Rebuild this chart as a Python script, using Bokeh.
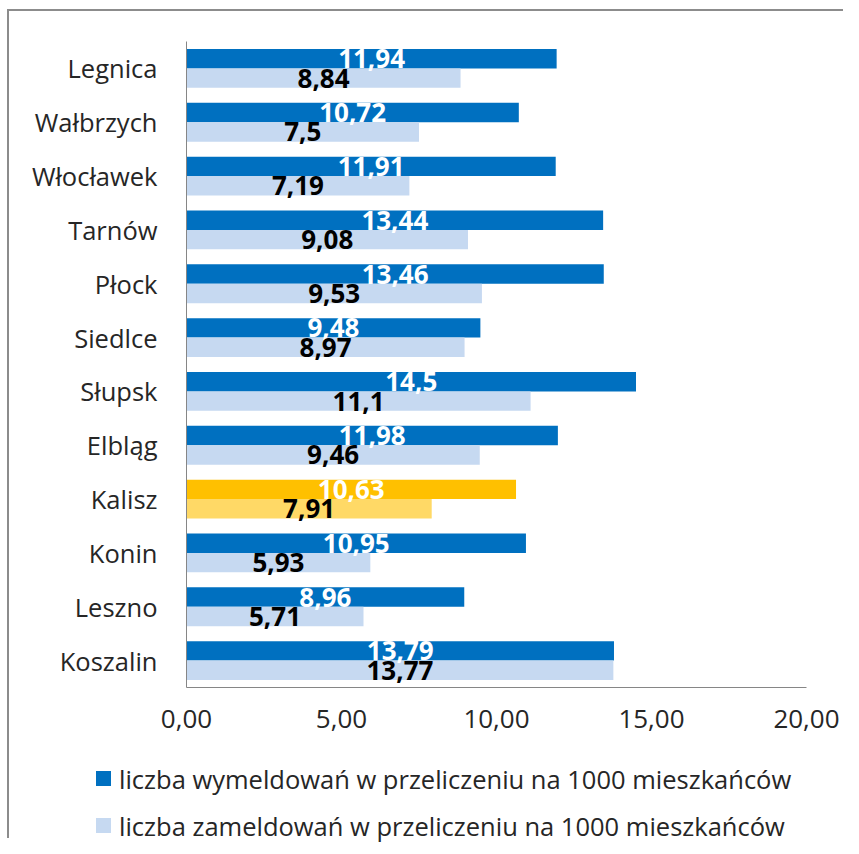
from bokeh.plotting import figure
from bokeh.layouts import column
from bokeh.models import ColumnDataSource, FactorRange, Range1d, Div, CustomJSTickFormatter
from bokeh.transform import dodge
from bokeh.core.properties import value
from bokeh.embed import file_html
from bokeh.resources import INLINE

cities = ["Legnica", "Wałbrzych", "Włocławek", "Tarnów", "Płock", "Siedlce",
          "Słupsk", "Elbląg", "Kalisz", "Konin", "Leszno", "Koszalin"]
wymeld = [11.94, 10.72, 11.91, 13.44, 13.46, 9.48, 14.5, 11.98, 10.63, 10.95, 8.96, 13.79]
zameld = [8.84, 7.5, 7.19, 9.08, 9.53, 8.97, 11.1, 9.46, 7.91, 5.93, 5.71, 13.77]
highlight = "Kalisz"
x_ticks = [0, 5, 10, 15, 20]
series_names = ["liczba wymeldowań w przeliczeniu na 1000 mieszkańców",
                "liczba zameldowań w przeliczeniu na 1000 mieszkańców"]

DARK, LIGHT = "#0070C0", "#C6D9F1"
HDARK, HLIGHT = "#FFC000", "#FFD966"
series_colors = [DARK, LIGHT]

src = ColumnDataSource(dict(
    city=cities,
    w=wymeld, z=zameld,
    wh=[v / 2 for v in wymeld], zh=[v / 2 for v in zameld],
    wl=[str(v).replace(".", ",") for v in wymeld],
    zl=[str(v).replace(".", ",") for v in zameld],
    wc=[HDARK if c == highlight else DARK for c in cities],
    zc=[HLIGHT if c == highlight else LIGHT for c in cities],
))

FONT = "Open Sans"
TXT = "#262626"

p = figure(width=834, height=724, output_backend="svg", toolbar_location=None,
           y_range=FactorRange(*cities[::-1], range_padding=0),
           x_range=Range1d(0, 20),
           min_border_left=177, min_border_right=37, min_border_top=30, min_border_bottom=48)

p.hbar(y=dodge("city", 0.18, range=p.y_range), right="w", left=0, height=0.36,
       fill_color="wc", line_color=None, source=src)
p.hbar(y=dodge("city", -0.18, range=p.y_range), right="z", left=0, height=0.36,
       fill_color="zc", line_color=None, source=src)

p.text(x="wh", y=dodge("city", 0.18, range=p.y_range), text="wl", source=src,
       text_align="center", text_baseline="middle", text_color="white",
       text_font=value(FONT), text_font_style="bold", text_font_size="26px")
p.text(x="zh", y=dodge("city", -0.18, range=p.y_range), text="zl", source=src,
       text_align="center", text_baseline="middle", text_color="black",
       text_font=value(FONT), text_font_style="bold", text_font_size="26px")

p.grid.visible = False
p.outline_line_color = None

for ax in (p.xaxis[0], p.yaxis[0]):
    ax.axis_line_color = "#868686"
    ax.axis_line_width = 1
    ax.major_tick_line_color = None
    ax.minor_tick_line_color = None
    ax.major_label_text_font = FONT
    ax.major_label_text_font_size = "26px"
    ax.major_label_text_color = TXT

p.yaxis.major_label_text_font_size = "25.5px"
p.xaxis.ticker = x_ticks
p.xaxis.formatter = CustomJSTickFormatter(code="return tick.toFixed(2).replace('.', ',');")
p.xaxis.major_label_standoff = 16
p.yaxis.major_label_standoff = 23

# legend (HTML, real text)
rows = []
for i, (name, col) in enumerate(zip(series_names, series_colors)):
    cy = 44 + 47 * i
    rows.append(
        f'<div style="position:absolute;left:87px;top:{cy - 8}px;width:15px;height:15px;background:{col};"></div>'
        f'<div style="position:absolute;left:110px;top:{cy - 17}px;height:34px;line-height:34px;'
        f'white-space:nowrap;">{name}</div>'
    )
legend_div = Div(text=f'<div style="position:relative;width:834px;height:103px;font-family:\'{FONT}\';'
                      f'font-size:25.5px;color:{TXT};">' + "".join(rows) + '</div>',
                 width=834, height=103, margin=0)

layout = column(p, legend_div, spacing=0,
                styles={"margin-left": "7px", "margin-top": "9px",
                        "border-left": "2px solid #8c8c8c", "border-top": "2px solid #8c8c8c"})

open("out.html", "w").write(file_html(layout, INLINE))
